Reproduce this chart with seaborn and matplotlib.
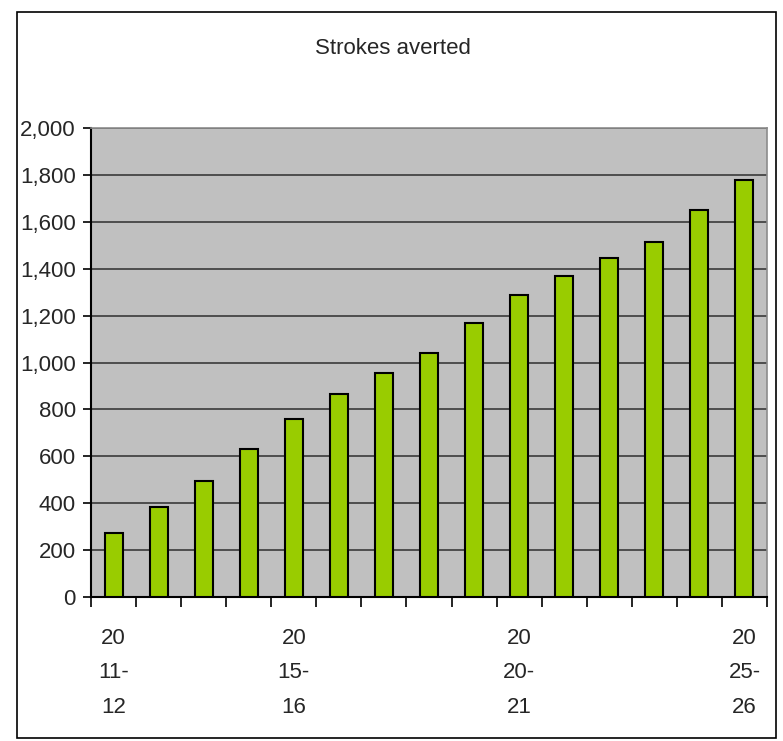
import matplotlib
matplotlib.use('Agg')
import matplotlib.pyplot as plt
import matplotlib.ticker as mticker
from matplotlib.patches import Rectangle
import seaborn as sns
import pandas as pd

# data
years = ['2011-12', '2012-13', '2013-14', '2014-15', '2015-16', '2016-17', '2017-18',
         '2018-19', '2019-20', '2020-21', '2021-22', '2022-23', '2023-24', '2024-25', '2025-26']
strokes = [274, 385, 496, 632, 759, 864, 957, 1042, 1170, 1289, 1368, 1444, 1513, 1649, 1777]
label_pos = [0, 4, 9, 14]
label_text = ['20\n11-\n12', '20\n15-\n16', '20\n20-\n21', '20\n25-\n26']

df = pd.DataFrame({'year': years, 'strokes': strokes})

sns.set_style('white')
plt.rcParams['font.family'] = ['Liberation Sans', 'DejaVu Sans']

fig = plt.figure(figsize=(7.83, 7.41), dpi=100)
ax = fig.add_axes([91/783, 1-597/741, (767-91)/783, (597-128)/741])
ax.set_facecolor('#C0C0C0')

sns.barplot(x='year', y='strokes', data=df, color='#99CC00', width=0.4,
            edgecolor='black', linewidth=1.5, saturation=1, ax=ax, zorder=3)

ax.set_ylim(0, 2000)
ax.set_xlim(-0.5, len(years)-0.5)
ax.yaxis.set_major_locator(mticker.MultipleLocator(200))
ax.yaxis.set_major_formatter(mticker.FuncFormatter(lambda v, p: f'{int(v):,}'))
ax.grid(axis='y', color='#3a3a3a', linewidth=1.2, zorder=1)
ax.set_axisbelow(True)

# ticks between categories, labels on some categories
ax.set_xticks([i - 0.5 for i in range(len(years)+1)])
ax.set_xticklabels([])
ax.set_xticks(label_pos, minor=True)
ax.set_xticklabels(label_text, minor=True, linespacing=1.85)
ax.tick_params(axis='x', which='major', direction='out', length=7, width=1.2, color='black', bottom=True)
ax.tick_params(axis='x', which='minor', length=0, pad=22, labelsize=16)
ax.tick_params(axis='y', direction='out', length=6, width=1.2, color='black', left=True, labelsize=16, pad=5)

ax.set_xlabel('')
ax.set_ylabel('')
for s in ['left', 'bottom']:
    ax.spines[s].set_color('black')
    ax.spines[s].set_linewidth(1.5)
for s in ['top', 'right']:
    ax.spines[s].set_color('#8c8c8c')
    ax.spines[s].set_linewidth(1.2)

fig.text(0.502, 1-48/741, 'Strokes averted', ha='center', va='center', fontsize=16)

# outer chart border
fig.patches.append(Rectangle((17/783, 1-738/741), (776-17)/783, (738-12)/741,
                             transform=fig.transFigure, fill=False, edgecolor='black',
                             linewidth=1.2))

fig.savefig('out.png', dpi=100)
